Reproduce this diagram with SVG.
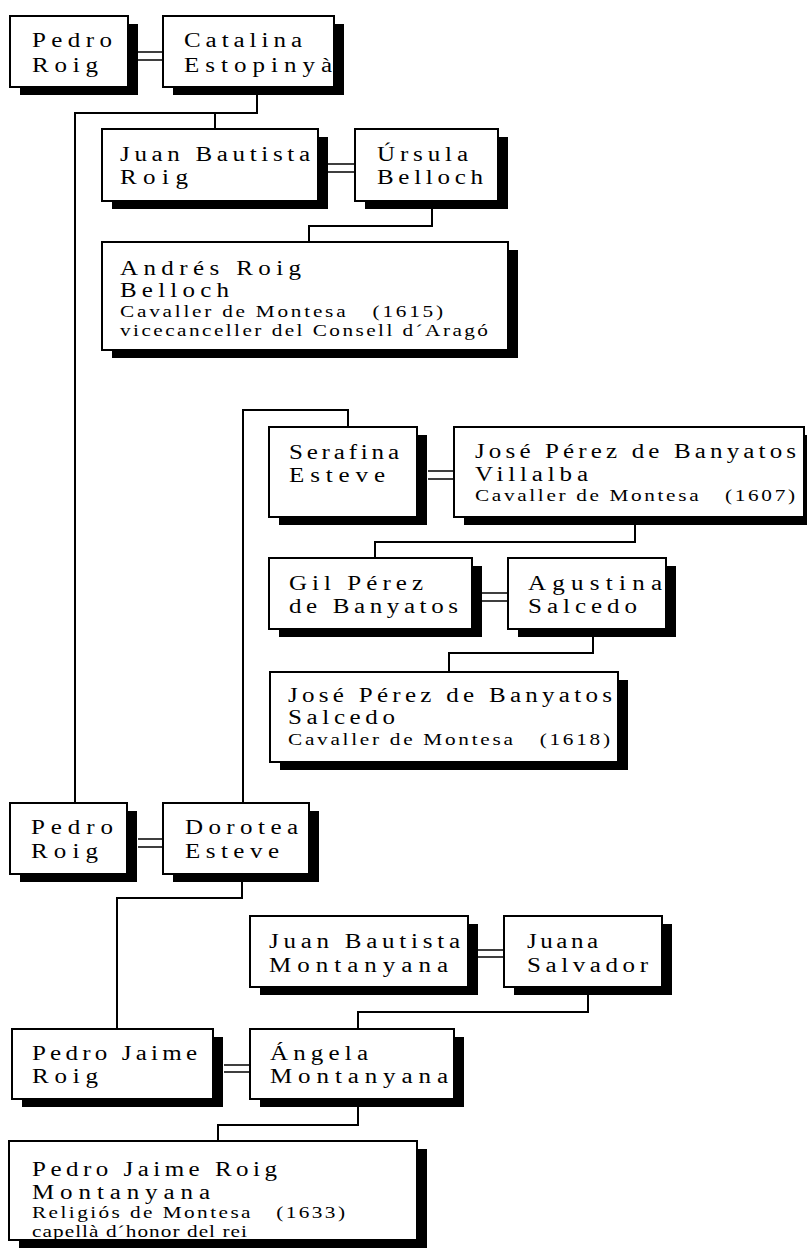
<svg xmlns="http://www.w3.org/2000/svg" width="807" height="1251" viewBox="0 0 807 1251">
<style>
.sh{fill:#000}
.bx{fill:#fff;stroke:#000;stroke-width:2}
.t{font-family:"Liberation Serif","Times New Roman",serif;font-size:20px;fill:#000}
.s{font-size:17px;white-space:pre}
.c{fill:none;stroke:#000;stroke-width:2}
.m{fill:none;stroke:#000;stroke-width:1.6}
</style>
<rect width="807" height="1251" fill="#fff"/>
<g id="connectors">
<path class="c" d="M257,95 V113 H75 V803 M215,113 V129"/>
<path class="c" d="M432,209 V226 H309 V242"/>
<path class="c" d="M243,803 V410 H348 V427"/>
<path class="c" d="M635,525 V542 H375 V558"/>
<path class="c" d="M593,637 V653 H449 V672"/>
<path class="c" d="M242,882 V898 H117 V1029"/>
<path class="c" d="M588,995 V1012 H358 V1029"/>
<path class="c" d="M358,1107 V1125 H218 V1141"/>
<path class="m" d="M138,52 H163 M138,60 H163"/>
<path class="m" d="M328,164 H355 M328,172 H355"/>
<path class="m" d="M428,471 H454 M428,479 H454"/>
<path class="m" d="M482,593 H508 M482,601 H508"/>
<path class="m" d="M138,839 H163 M138,847 H163"/>
<path class="m" d="M478,950 H504 M478,957 H504"/>
<path class="m" d="M224,1065 H250 M224,1072 H250"/>
</g>
<g id="n-pedro-roig-1">
<rect class="sh" x="20" y="24" width="118" height="71"/>
<rect class="bx" x="10" y="16" width="118" height="71"/>
<text class="t" transform="matrix(1.25 0 0 1 32 47)" textLength="64" lengthAdjust="spacing">Pedro</text>
<text class="t" transform="matrix(1.25 0 0 1 32 72)" textLength="52.8" lengthAdjust="spacing">Roig</text>
</g>
<g id="n-catalina">
<rect class="sh" x="173" y="24" width="171" height="71"/>
<rect class="bx" x="163" y="16" width="171" height="71"/>
<text class="t" transform="matrix(1.25 0 0 1 184 47)" textLength="94.4" lengthAdjust="spacing">Catalina</text>
<text class="t" transform="matrix(1.25 0 0 1 184 72)" textLength="118.4" lengthAdjust="spacing">Estopinyà</text>
</g>
<g id="n-juan-bautista-roig">
<rect class="sh" x="112" y="137" width="216" height="72"/>
<rect class="bx" x="102" y="129" width="216" height="72"/>
<text class="t" transform="matrix(1.25 0 0 1 120 161)" textLength="152" lengthAdjust="spacing">Juan Bautista</text>
<text class="t" transform="matrix(1.25 0 0 1 120 184)" textLength="54.4" lengthAdjust="spacing">Roig</text>
</g>
<g id="n-ursula">
<rect class="sh" x="365" y="137" width="143" height="72"/>
<rect class="bx" x="355" y="129" width="143" height="72"/>
<text class="t" transform="matrix(1.25 0 0 1 377 161)" textLength="72.8" lengthAdjust="spacing">Úrsula</text>
<text class="t" transform="matrix(1.25 0 0 1 377 184)" textLength="84.8" lengthAdjust="spacing">Belloch</text>
</g>
<g id="n-andres">
<rect class="sh" x="112" y="250" width="406" height="108"/>
<rect class="bx" x="102" y="242" width="406" height="108"/>
<text class="t" transform="matrix(1.25 0 0 1 120 275)" textLength="144.8" lengthAdjust="spacing">Andrés Roig</text>
<text class="t" transform="matrix(1.25 0 0 1 120 297)" textLength="87.2" lengthAdjust="spacing">Belloch</text>
<text class="t s" transform="matrix(1.25 0 0 1 120 317)" textLength="258.4" lengthAdjust="spacing" xml:space="preserve">Cavaller de Montesa   (1615)</text>
<text class="t s" transform="matrix(1.25 0 0 1 120 336)" textLength="294.4" lengthAdjust="spacing">vicecanceller del Consell d´Aragó</text>
</g>
<g id="n-serafina">
<rect class="sh" x="279" y="435" width="148" height="90"/>
<rect class="bx" x="269" y="427" width="148" height="90"/>
<text class="t" transform="matrix(1.25 0 0 1 289 459)" textLength="88" lengthAdjust="spacing">Serafina</text>
<text class="t" transform="matrix(1.25 0 0 1 289 482)" textLength="76.8" lengthAdjust="spacing">Esteve</text>
</g>
<g id="n-jose-villalba">
<rect class="sh" x="464" y="435" width="350" height="90"/>
<rect class="bx" x="454" y="427" width="350" height="90"/>
<text class="t" transform="matrix(1.25 0 0 1 475 458)" textLength="256.8" lengthAdjust="spacing">José Pérez de Banyatos</text>
<text class="t" transform="matrix(1.25 0 0 1 475 481)" textLength="90.4" lengthAdjust="spacing">Villalba</text>
<text class="t s" transform="matrix(1.25 0 0 1 475 501)" textLength="256" lengthAdjust="spacing" xml:space="preserve">Cavaller de Montesa   (1607)</text>
</g>
<g id="n-gil">
<rect class="sh" x="279" y="566" width="203" height="71"/>
<rect class="bx" x="269" y="558" width="203" height="71"/>
<text class="t" transform="matrix(1.25 0 0 1 289 590)" textLength="107.2" lengthAdjust="spacing">Gil Pérez</text>
<text class="t" transform="matrix(1.25 0 0 1 289 613)" textLength="135.2" lengthAdjust="spacing">de Banyatos</text>
</g>
<g id="n-agustina">
<rect class="sh" x="518" y="566" width="158" height="71"/>
<rect class="bx" x="508" y="558" width="158" height="71"/>
<text class="t" transform="matrix(1.25 0 0 1 528 590)" textLength="107.2" lengthAdjust="spacing">Agustina</text>
<text class="t" transform="matrix(1.25 0 0 1 528 613)" textLength="87.2" lengthAdjust="spacing">Salcedo</text>
</g>
<g id="n-jose-salcedo">
<rect class="sh" x="280" y="680" width="348" height="90"/>
<rect class="bx" x="270" y="672" width="348" height="90"/>
<text class="t" transform="matrix(1.25 0 0 1 288 702)" textLength="259.2" lengthAdjust="spacing">José Pérez de Banyatos</text>
<text class="t" transform="matrix(1.25 0 0 1 288 724)" textLength="85.6" lengthAdjust="spacing">Salcedo</text>
<text class="t s" transform="matrix(1.25 0 0 1 288 745)" textLength="257.6" lengthAdjust="spacing" xml:space="preserve">Cavaller de Montesa   (1618)</text>
</g>
<g id="n-pedro-roig-2">
<rect class="sh" x="20" y="811" width="117" height="71"/>
<rect class="bx" x="10" y="803" width="117" height="71"/>
<text class="t" transform="matrix(1.25 0 0 1 31 834)" textLength="65.6" lengthAdjust="spacing">Pedro</text>
<text class="t" transform="matrix(1.25 0 0 1 31 858)" textLength="53.6" lengthAdjust="spacing">Roig</text>
</g>
<g id="n-dorotea">
<rect class="sh" x="173" y="811" width="146" height="71"/>
<rect class="bx" x="163" y="803" width="146" height="71"/>
<text class="t" transform="matrix(1.25 0 0 1 185 834)" textLength="90.4" lengthAdjust="spacing">Dorotea</text>
<text class="t" transform="matrix(1.25 0 0 1 185 858)" textLength="75.2" lengthAdjust="spacing">Esteve</text>
</g>
<g id="n-juan-bautista-montanyana">
<rect class="sh" x="260" y="924" width="218" height="71"/>
<rect class="bx" x="250" y="916" width="218" height="71"/>
<text class="t" transform="matrix(1.25 0 0 1 269 948)" textLength="152.8" lengthAdjust="spacing">Juan Bautista</text>
<text class="t" transform="matrix(1.25 0 0 1 269 972)" textLength="143.2" lengthAdjust="spacing">Montanyana</text>
</g>
<g id="n-juana">
<rect class="sh" x="514" y="924" width="158" height="71"/>
<rect class="bx" x="504" y="916" width="158" height="71"/>
<text class="t" transform="matrix(1.25 0 0 1 527 948)" textLength="56.8" lengthAdjust="spacing">Juana</text>
<text class="t" transform="matrix(1.25 0 0 1 527 972)" textLength="96.8" lengthAdjust="spacing">Salvador</text>
</g>
<g id="n-pedro-jaime">
<rect class="sh" x="22" y="1037" width="201" height="70"/>
<rect class="bx" x="12" y="1029" width="201" height="70"/>
<text class="t" transform="matrix(1.25 0 0 1 32 1060)" textLength="132" lengthAdjust="spacing">Pedro Jaime</text>
<text class="t" transform="matrix(1.25 0 0 1 32 1083)" textLength="52.8" lengthAdjust="spacing">Roig</text>
</g>
<g id="n-angela">
<rect class="sh" x="260" y="1037" width="204" height="70"/>
<rect class="bx" x="250" y="1029" width="204" height="70"/>
<text class="t" transform="matrix(1.25 0 0 1 270 1060)" textLength="78.4" lengthAdjust="spacing">Ángela</text>
<text class="t" transform="matrix(1.25 0 0 1 270 1083)" textLength="142.4" lengthAdjust="spacing">Montanyana</text>
</g>
<g id="n-pedro-jaime-montanyana">
<rect class="sh" x="19" y="1149" width="408" height="99"/>
<rect class="bx" x="9" y="1141" width="408" height="99"/>
<text class="t" transform="matrix(1.25 0 0 1 32 1176)" textLength="196" lengthAdjust="spacing">Pedro Jaime Roig</text>
<text class="t" transform="matrix(1.25 0 0 1 32 1199)" textLength="142.4" lengthAdjust="spacing">Montanyana</text>
<text class="t s" transform="matrix(1.25 0 0 1 32 1218)" textLength="250.4" lengthAdjust="spacing" xml:space="preserve">Religiós de Montesa   (1633)</text>
<text class="t s" transform="matrix(1.25 0 0 1 32 1237)" textLength="172" lengthAdjust="spacing">capellà d´honor del rei</text>
</g>
</svg>
